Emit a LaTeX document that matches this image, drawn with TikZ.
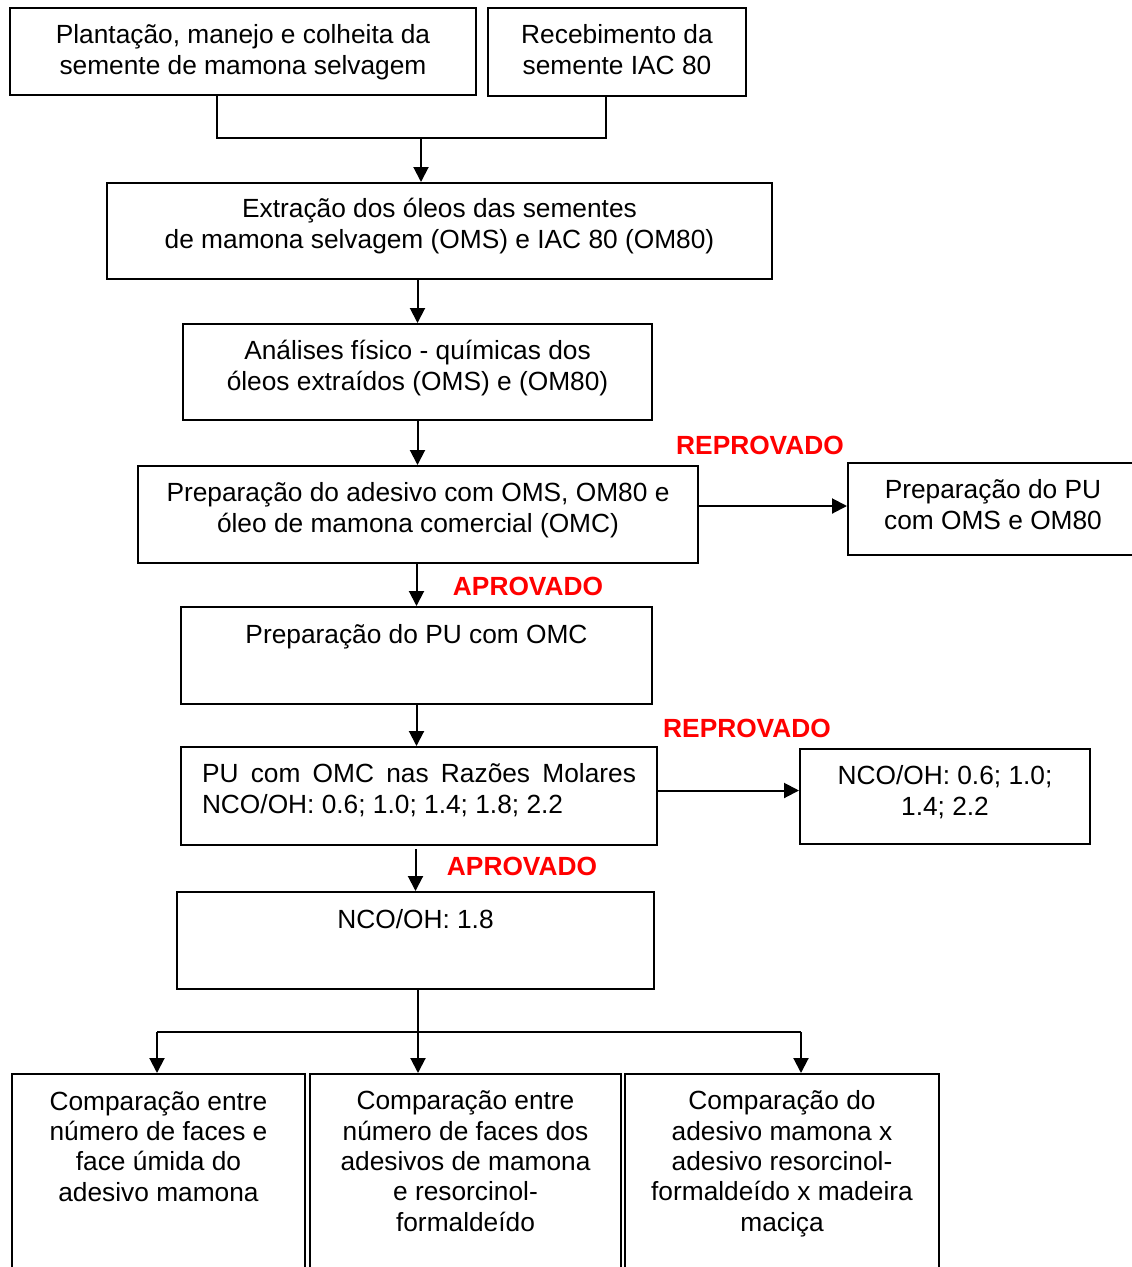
\documentclass[tikz,border=0pt]{standalone}
\usepackage{fontspec}
\setmainfont{Liberation Sans}
\usetikzlibrary{arrows.meta}
\begin{document}
\begin{tikzpicture}[x=1pt,y=-1pt,line width=2pt,
		caixa/.style={draw,inner sep=0pt,align=center,anchor=base,font=\fontsize{26.3pt}{30.3pt}\selectfont},
		rotulo/.style={text=red,inner sep=0pt,anchor=base,font=\fontsize{26.3pt}{30pt}\selectfont\bfseries},
		seta/.style={-{Triangle[length=15pt,width=15pt]}}]
		    	\useasboundingbox (0,0) rectangle (1132,1267);
		    	\node[caixa,minimum width=466pt,text height=66pt,text depth=21pt] (FA) at (243,74) {Plantação, manejo e colheita da\\semente de mamona selvagem};
		    	\node[caixa,minimum width=258pt,text height=66pt,text depth=22pt] (FB) at (617,74) {Recebimento da\\semente IAC 80};
		    	\node[caixa,minimum width=665pt,text height=65pt,text depth=31pt] (FC) at (439.5,248) {Extração dos óleos das sementes\\de mamona selvagem (OMS) e IAC 80 (OM80)};
		    	\node[caixa,minimum width=469pt,text height=66pt,text depth=30pt] (FD) at (417.5,390) {Análises físico - químicas dos\\óleos extraídos (OMS) e (OM80)};
		    	\node[caixa,minimum width=560pt,text height=66pt,text depth=31pt] (FE) at (418,532) {Preparação do adesivo com OMS, OM80 e\\óleo de mamona comercial (OMC)};
		    	\node[caixa,minimum width=290pt,text height=66pt,text depth=26pt] (FF) at (993,529) {Preparação do PU\\com OMS e OM80};
		    	\node[caixa,minimum width=471pt,text height=36pt,text depth=61pt] (FG) at (416.5,643) {Preparação do PU com OMC};
		    	\node[caixa,align=left,minimum width=476pt,text height=66pt,text depth=32pt] (FH) at (419,813) {\makebox[434pt][s]{PU com OMC nas Razões Molares}\\NCO/OH: 0.6; 1.0; 1.4; 1.8; 2.2};
		    	\node[caixa,minimum width=290pt,text height=66pt,text depth=29pt] (FI) at (945,815) {NCO/OH: 0.6; 1.0;\\1.4; 2.2};
		    	\node[caixa,minimum width=477pt,text height=36pt,text depth=61pt] (FJ) at (415.5,928) {NCO/OH: 1.8};
		    	\node[caixa,minimum width=293pt,text height=127pt,text depth=99pt] (FK) at (158.5,1201) {Comparação entre\\número de faces e\\face úmida do\\adesivo mamona};
		    	\node[caixa,minimum width=311pt,text height=157pt,text depth=69pt] (FL) at (465.5,1231) {Comparação entre\\número de faces dos\\adesivos de mamona\\e resorcinol-\\formaldeído};
		    	\node[caixa,minimum width=314pt,text height=157pt,text depth=69pt] (FM) at (782,1231) {Comparação do\\adesivo mamona x\\adesivo resorcinol-\\formaldeído x madeira\\maciça};
		    	
		    	\node[rotulo] (RA) at (760,454) {REPROVADO};
		    	\node[rotulo] (RB) at (528,595) {APROVADO};
		    	\node[rotulo] (RC) at (747,737) {REPROVADO};
		    	\node[rotulo] (RD) at (522,875) {APROVADO};
		    	
		    	\coordinate (JA) at (217,138);
		    	\coordinate (JB) at (606,138);
		    	\coordinate (JC) at (421,138);
		    	\coordinate (JD) at (418,1032);
		    	\coordinate (JE) at (157,1032);
		    	\coordinate (JF) at (801,1032);
		    	
		    	\draw (FA.south -| JA)--(JA)--(JB)--(FB.south -| JB);
		    	\draw[seta] (JC)--(FC.north -| JC);
		    	\draw[seta] (FD.north |- FC.south)--(FD.north);
		    	\draw[seta] (FD.south)--(FD.south |- FE.north);
		    	\draw[seta] ([yshift=3pt]FE.east |- FF.west)--([yshift=3pt]FF.west);
		    	\draw[seta] (FG.north |- FE.south)--(FG.north);
		    	\draw[seta] (FG.south)--(FG.south |- FH.north);
		    	\draw[seta] ([yshift=6pt]FH.east |- FI.west)--([yshift=6pt]FI.west);
		    	\draw[seta] ([yshift=-3pt]FJ.north |- FH.south)--(FJ.north);
		    	\draw (FJ.south -| JD)--(JD);
		    	\draw (JE)--(JF);
		    	\draw[seta] (JE)--(JE |- FK.north);
		    	\draw[seta] (JD)--(JD |- FL.north);
		    	\draw[seta] (JF)--(JF |- FM.north);
		    \end{tikzpicture}
\end{document}
